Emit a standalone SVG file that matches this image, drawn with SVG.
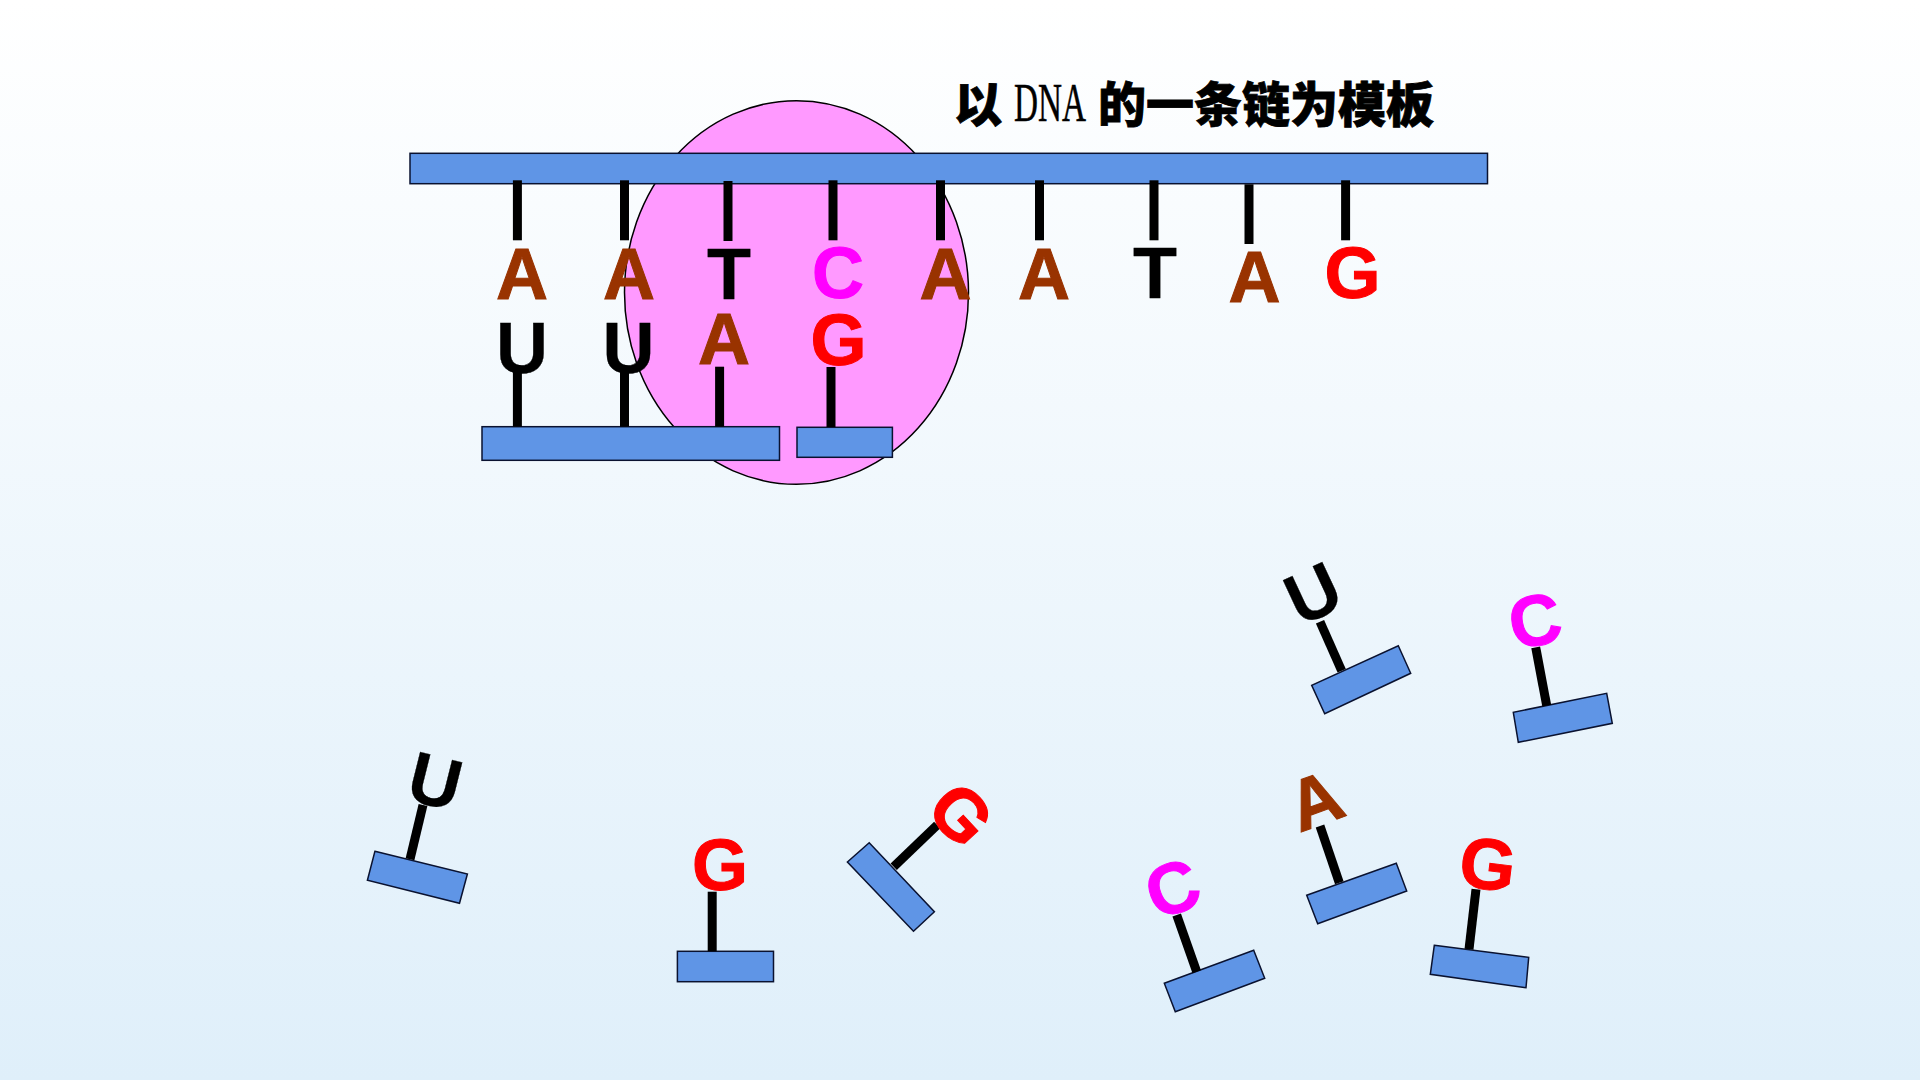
<svg xmlns="http://www.w3.org/2000/svg" width="1920" height="1080" viewBox="0 0 1920 1080">
  <defs>
    <linearGradient id="bg" x1="0" y1="0" x2="0" y2="1">
      <stop offset="0" stop-color="#ffffff"/>
      <stop offset="1" stop-color="#dfeffa"/>
    </linearGradient>
  </defs>
  <style>
    .bar { fill: #5f95e6; stroke: #0a1230; stroke-width: 1.5; }
    .stem { stroke: #000; stroke-width: 9; fill: none; }
    .base { font-family: "Liberation Sans", Arial, sans-serif; font-weight: 700; font-size: 72px; text-anchor: middle; stroke-width: 1; }
    .a { fill: #993300; stroke: #993300; }
    .t, .u { fill: #000; stroke: #000; stroke-width: 0.3; }
    .c { fill: #ff00ff; stroke: #ff00ff; }
    .g { fill: #ff0000; stroke: #ff0000; }
    .title { font-family: "Noto Sans CJK SC", sans-serif; font-weight: 900; font-size: 48px; fill: #000; stroke: #000; stroke-width: 0.8; }
    .latin { font-family: "Liberation Serif", "Times New Roman", serif; font-weight: 400; font-size: 54px; fill: #000; stroke: #000; stroke-width: 0.5; }
  </style>

  <rect width="1920" height="1080" fill="url(#bg)"/>

  <g id="polymerase">
    <ellipse cx="796.5" cy="292.5" rx="172" ry="191.8" fill="#ff99ff" stroke="#000" stroke-width="1.5"/>
  </g>

  <g id="heading">
    <text class="title" x="954" y="121.5">以</text>
    <text class="latin" transform="translate(1014 120.7) scale(0.615 1)">DNA</text>
    <text class="title" x="1098" y="121.5">的一条链为模板</text>
  </g>

  <g id="template-strand">
    <rect class="bar" x="410" y="153.3" width="1077.5" height="30.4"/>
  </g>
  <g id="new-strand">
    <rect class="bar" x="482" y="426.7" width="297.5" height="33.6"/>
  </g>
  <g id="incoming-segment">
    <rect class="bar" x="797" y="427.3" width="95.4" height="30"/>
  </g>

  <g id="free-u-left"><polygon class="bar" points="374.9,851.3 467.4,874 459.5,903.3 367.4,880.3"/></g>
  <g id="free-g-mid"><rect class="bar" x="677.4" y="951.3" width="96.1" height="30.4"/></g>
  <g id="free-g-tilted"><polygon class="bar" points="869.2,842.7 934.4,911.7 913.5,931.3 847.4,862"/></g>
  <g id="free-u-right"><polygon class="bar" points="1398.3,645.7 1410.7,673.3 1324.7,713.7 1311.7,685.3"/></g>
  <g id="free-c-right"><polygon class="bar" points="1606.7,693.3 1612.3,723.3 1518.3,742.3 1513.3,712.3"/></g>
  <g id="free-a"><polygon class="bar" points="1396.3,863.3 1406.7,891 1317.7,923.7 1306.7,895.3"/></g>
  <g id="free-c-low"><polygon class="bar" points="1253.7,950.3 1264.7,978.3 1175.3,1011.7 1164.3,983.3"/></g>
  <g id="free-g-low"><polygon class="bar" points="1434.3,945.3 1528.7,957.3 1526,987.7 1430.3,974.3"/></g>

  <!-- Stems joining each base to its backbone -->
  <g id="connectors">
    <line class="stem" x1="517.4" y1="180.3" x2="517.4" y2="240.3"/>
    <line class="stem" x1="624.5" y1="180.3" x2="624.5" y2="240.3"/>
    <line class="stem" x1="728" y1="181" x2="728" y2="241"/>
    <line class="stem" x1="833" y1="180.3" x2="833" y2="240.3"/>
    <line class="stem" x1="940.5" y1="180.3" x2="940.5" y2="240.3"/>
    <line class="stem" x1="1039.5" y1="180.3" x2="1039.5" y2="240.3"/>
    <line class="stem" x1="1154" y1="180.3" x2="1154" y2="240.3"/>
    <line class="stem" x1="1249" y1="184.3" x2="1249" y2="244"/>
    <line class="stem" x1="1345.6" y1="180.3" x2="1345.6" y2="240.3"/>

    <line class="stem" x1="517.4" y1="370" x2="517.4" y2="426.7"/>
    <line class="stem" x1="624.5" y1="370" x2="624.5" y2="426.7"/>
    <line class="stem" x1="719.6" y1="366.7" x2="719.6" y2="426.7"/>
    <line class="stem" x1="831" y1="367" x2="831" y2="427"/>

    <line class="stem" x1="410" y1="859.3" x2="423" y2="805"/>
    <line class="stem" x1="712.2" y1="891.7" x2="712.2" y2="951.3"/>
    <line class="stem" x1="893.7" y1="866.7" x2="937.2" y2="825"/>
    <line class="stem" x1="1341.7" y1="670.7" x2="1320" y2="621.7"/>
    <line class="stem" x1="1546.7" y1="705.7" x2="1535.7" y2="647.3"/>
    <line class="stem" x1="1339.3" y1="882.7" x2="1320" y2="826"/>
    <line class="stem" x1="1196.7" y1="971.7" x2="1176.7" y2="915"/>
    <line class="stem" x1="1469" y1="949.3" x2="1476" y2="889.3"/>
  </g>

  <g id="template-bases">
    <text class="base a" x="522" y="298.7">A</text>
    <text class="base a" x="629" y="298.7">A</text>
    <text class="base t" x="729" y="298.7">T</text>
    <text class="base c" x="838" y="298">C</text>
    <text class="base a" x="945.5" y="298.7">A</text>
    <text class="base a" x="1044" y="298.7">A</text>
    <text class="base t" x="1155" y="298.3">T</text>
    <text class="base a" x="1254.5" y="301.7">A</text>
    <text class="base g" x="1352.5" y="298">G</text>
  </g>
  <g id="paired-bases">
    <text class="base u" x="522" y="372.5">U</text>
    <text class="base u" x="628.5" y="372.5">U</text>
    <text class="base a" x="724" y="364">A</text>
    <text class="base g" x="838.5" y="365">G</text>
  </g>
  <g id="free-bases">
    <text class="base u" transform="translate(435.5 780) rotate(14)" y="26">U</text>
    <text class="base g" transform="translate(720 865)" y="25">G</text>
    <text class="base g" transform="translate(961.5 814) rotate(47)" y="25.5">G</text>
    <text class="base u" transform="translate(1312.5 592.5) rotate(-25)" y="26">U</text>
    <text class="base c" transform="translate(1535 620) rotate(-11)" y="25.5">C</text>
    <text class="base a" transform="translate(1315 799.5) rotate(-20)" y="26">A</text>
    <text class="base c" transform="translate(1172.5 888) rotate(-20)" y="25.5">C</text>
    <text class="base g" transform="translate(1488 863.5) rotate(7)" y="25.5">G</text>
  </g>
</svg>
